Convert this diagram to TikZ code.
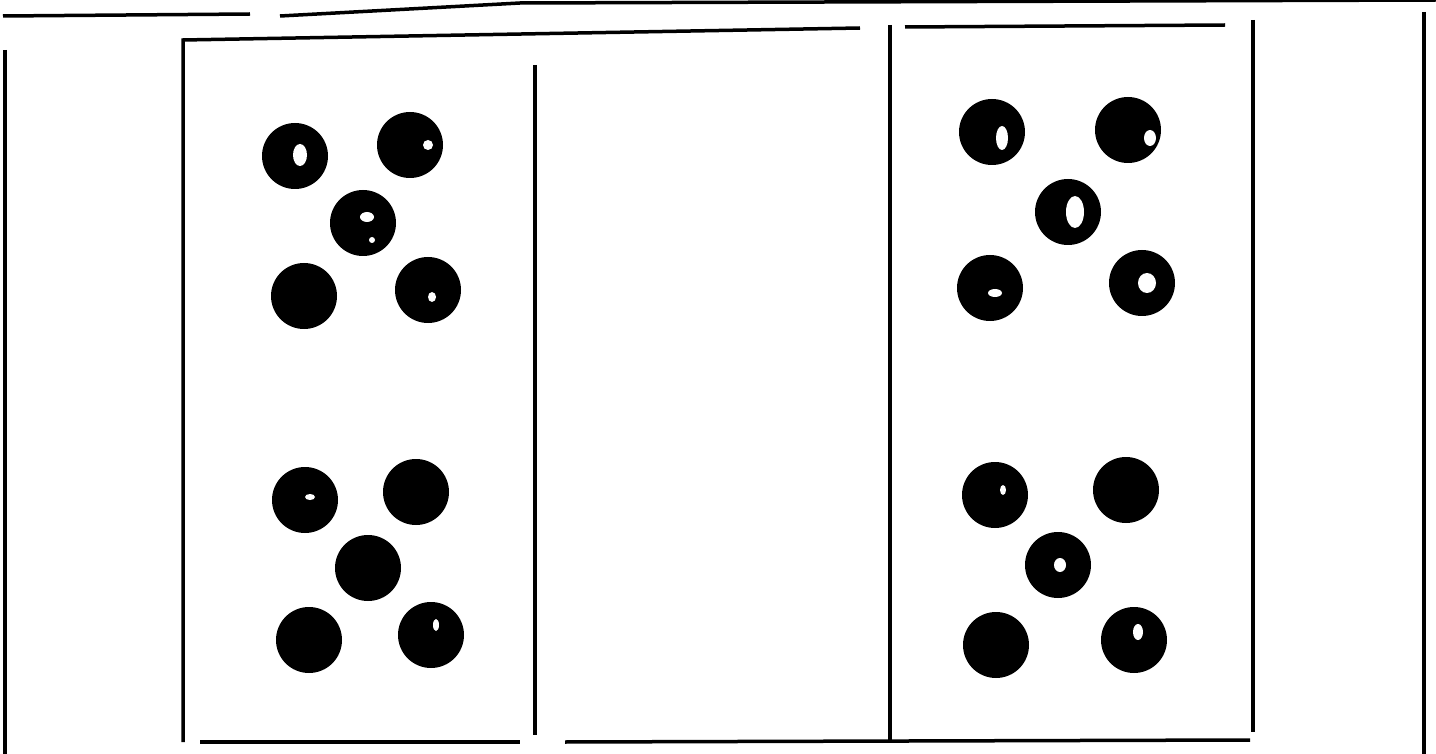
\documentclass[tikz,border=0pt]{standalone}
\begin{document}
\begin{tikzpicture}[x=1pt,y=-1pt,
  frame/.style={line width=3.5pt,black},
  pip/.style={circle,fill=black,minimum size=66pt,inner sep=0pt},
  speck/.style={fill=white}]
\useasboundingbox (0,0) rectangle (1436,754);
% outer skewed frame
\draw[frame] (3,16) -- (250,14);
\draw[frame] (280,16) -- (520,3) -- (1436,0);
\draw[frame] (5,50) -- (5,754);
\draw[frame] (1424,12) -- (1424,754);
% domino panels
\draw[frame] (183,742) -- (183,40) -- (860,28);
\draw[frame] (905,27) -- (1225,25);
\draw[frame] (1253,20) -- (1253,732);
\draw[frame] (535,65) -- (535,735);
\draw[frame] (890,25) -- (890,742);
\draw[frame] (200,742) -- (520,742);
\draw[frame] (565,742) -- (1250,740);
% left panel pips, upper group
\node[pip] (a1) at (295,156) {};
\node[pip] (a2) at (410,145) {};
\node[pip] (a3) at (363,223) {};
\node[pip] (a4) at (304,296) {};
\node[pip] (a5) at (428,290) {};
% left panel pips, lower group
\node[pip] (b1) at (305,500) {};
\node[pip] (b2) at (416,492) {};
\node[pip] (b3) at (368,568) {};
\node[pip] (b4) at (309,640) {};
\node[pip] (b5) at (431,635) {};
% right panel pips, upper group
\node[pip] (c1) at (992,132) {};
\node[pip] (c2) at (1128,130) {};
\node[pip] (c3) at (1068,212) {};
\node[pip] (c4) at (990,288) {};
\node[pip] (c5) at (1142,283) {};
% right panel pips, lower group
\node[pip] (d1) at (995,495) {};
\node[pip] (d2) at (1126,490) {};
\node[pip] (d3) at (1058,565) {};
\node[pip] (d4) at (996,645) {};
\node[pip] (d5) at (1134,640) {};
% white specks of the worn print
\fill[speck] (300,155) ellipse (7 and 11);
\fill[speck] (428,145) circle (5);
\fill[speck] (367,217) ellipse (7 and 5);
\fill[speck] (372,240) circle (3);
\fill[speck] (432,297) ellipse (4 and 5);
\fill[speck] (1002,138) ellipse (6 and 12);
\fill[speck] (1150,138) ellipse (6 and 8);
\fill[speck] (1075,212) ellipse (9 and 16);
\fill[speck] (995,293) ellipse (7 and 4);
\fill[speck] (1147,283) ellipse (9 and 10);
\fill[speck] (1060,565) ellipse (6 and 7);
\fill[speck] (1138,632) ellipse (5 and 8);
\fill[speck] (436,625) ellipse (3 and 6);
\fill[speck] (310,497) ellipse (5 and 3);
\fill[speck] (1003,490) ellipse (3 and 5);
\end{tikzpicture}
\end{document}
